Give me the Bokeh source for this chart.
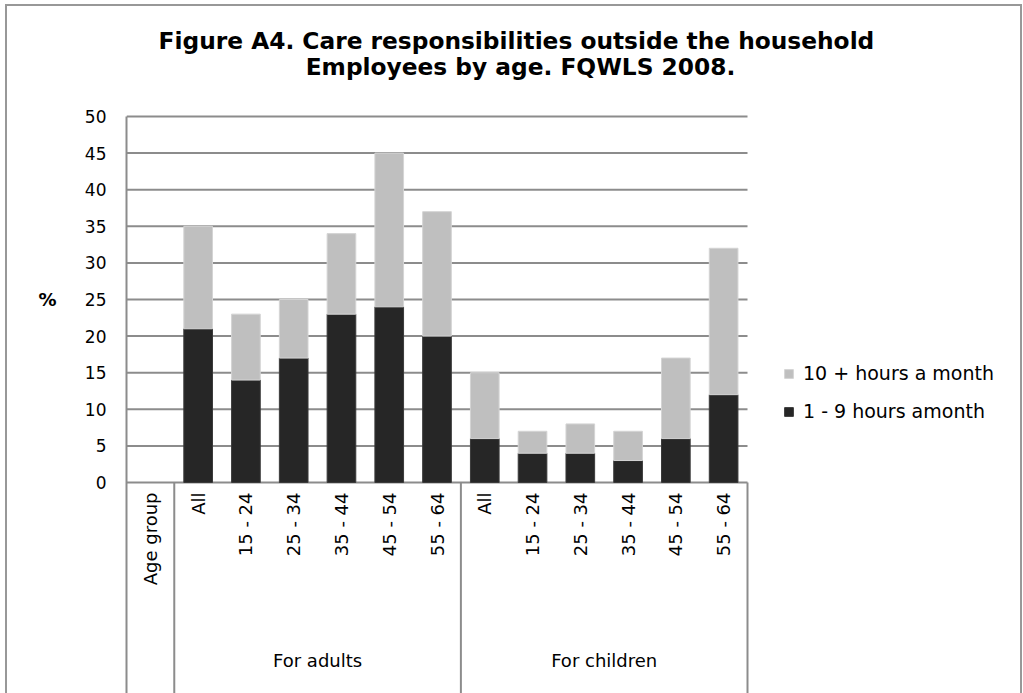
import math

from bokeh.core.properties import value
from bokeh.embed import file_html
from bokeh.models import (ColumnDataSource, FixedTicker, InlineStyleSheet, Label,
                          Legend, LegendItem, LinearAxis, Range1d)
from bokeh.plotting import figure
from bokeh.resources import INLINE

# ---- data -------------------------------------------------------------
title_line_1 = "Figure A4. Care responsibilities  outside the household"
title_line_2 = "Employees by age. FQWLS 2008."
y_label = "%"
header_label = "Age group"
groups = ["For adults", "For children"]
ages = ["All", "15 - 24", "25 - 34", "35 - 44", "45 - 54", "55 - 64"]
series_low = "1 - 9 hours amonth"
series_high = "10 + hours a month"

adults_1_9 = [21, 14, 17, 23, 24, 20]
adults_10_plus = [14, 9, 8, 11, 21, 17]
children_1_9 = [6, 4, 4, 3, 6, 12]
children_10_plus = [9, 3, 4, 4, 11, 20]

y_ticks = [0, 5, 10, 15, 20, 25, 30, 35, 40, 45, 50]

# ---- layout / style ---------------------------------------------------
W, H = 1023, 693
LEFT = 126                 # width of the value-axis panel
PLOT_W = 621               # width taken by the category slots
PLOT_TOP, ZERO_Y = 116, 482  # pixel rows of the 50 and 0 lines
FONT = "DejaVu Sans"
GRID = "#8c8c8c"
DARK = "#262626"
LIGHT = "#bfbfbf"

n = len(ages)
n_slots = 1 + 2 * n                        # header slot + both groups
px_per_slot = PLOT_W / n_slots
px_per_unit = (ZERO_Y - PLOT_TOP) / y_ticks[-1]
x_end = (W - LEFT) / px_per_slot
y_top = y_ticks[-1] + PLOT_TOP / px_per_unit
y_bottom = -(H - ZERO_Y) / px_per_unit

# slot centres: header first, then the age bands of each group
header_x = 0.5
bar_x = [1.5 + i for i in range(2 * n)]
group_x = [1 + n / 2, 1 + n + n / 2]
sep_x = [1, 1 + n, 1 + 2 * n]

source = ColumnDataSource(dict(
    x=bar_x,
    low=adults_1_9 + children_1_9,
    high=adults_10_plus + children_10_plus,
))

p = figure(
    width=W, height=H,
    x_range=Range1d(0, x_end), y_range=Range1d(y_bottom, y_top),
    x_axis_location=None,
    output_backend="svg", toolbar_location=None,
    min_border_left=LEFT, min_border_right=0, min_border_top=0, min_border_bottom=0,
)
p.outline_line_color = None
p.background_fill_color = "white"
p.border_fill_color = "white"
p.xgrid.visible = False
p.ygrid.visible = False

# value axis (line only between the lowest category row and 50)
p.yaxis.ticker = FixedTicker(ticks=y_ticks)
p.yaxis.bounds = (y_bottom, y_ticks[-1])
p.yaxis.axis_line_color = GRID
p.yaxis.axis_line_width = 2
p.yaxis.major_tick_line_color = None
p.yaxis.minor_tick_line_color = None
p.yaxis.major_tick_in = 0
p.yaxis.major_tick_out = 0
p.yaxis.major_label_standoff = 20
p.yaxis.major_label_text_font = FONT
p.yaxis.major_label_text_font_size = "17px"
p.yaxis.major_label_text_color = "black"

# unit marker beside the value axis
unit_axis = LinearAxis(
    ticker=FixedTicker(ticks=[25]), major_label_overrides={25: y_label},
    axis_line_color=None, major_tick_line_color=None, minor_tick_line_color=None,
    major_tick_in=0, major_tick_out=0, major_label_standoff=25,
    major_label_text_font=FONT, major_label_text_font_size="18px",
    major_label_text_font_style="bold", major_label_text_color="black",
)
p.add_layout(unit_axis, "left")

# horizontal grid lines across the category slots
p.segment(x0=[0] * len(y_ticks), x1=[n_slots] * len(y_ticks), y0=y_ticks, y1=y_ticks,
          line_color=GRID, line_width=2)

# stacked bars
r_low, r_high = p.vbar_stack(
    ["low", "high"], x="x", width=0.6, source=source,
    fill_color=[DARK, LIGHT], line_color=["#3a3a3a", "#d4d4d4"], line_width=1,
)

# category axis below zero: separators, rotated labels, group labels
p.segment(x0=sep_x, y0=[0] * 3, x1=sep_x, y1=[y_bottom] * 3,
          line_color=GRID, line_width=2)

p.text(x=[header_x] + bar_x, y=[0] * (1 + 2 * n), text=[header_label] + ages + ages,
       angle=math.pi / 2, y_offset=10, text_align="right", text_baseline="middle",
       text_font=value(FONT), text_font_size="18px", text_color="black")

p.text(x=group_x, y=[0, 0], text=groups, y_offset=178,
       text_align="center", text_baseline="middle",
       text_font=value(FONT), text_font_size="18px", text_color="black")

# two-line title
for txt, row in ((title_line_1, 40), (title_line_2, 66)):
    p.add_layout(Label(x=520 - LEFT, y=H - row, x_units="screen", y_units="screen",
                       text=txt, text_align="center", text_baseline="middle",
                       text_font=FONT, text_font_size="23.3px", text_font_style="bold",
                       text_color="black"))

legend = Legend(
    items=[LegendItem(label=series_high, renderers=[r_high]),
           LegendItem(label=series_low, renderers=[r_low])],
    location=(783 - LEFT, H - 422), margin=0, padding=0, spacing=16,
    glyph_width=11, glyph_height=11, label_height=22, label_standoff=9,
    label_text_font=FONT, label_text_font_size="19px", label_text_color="black",
    border_line_color=None, background_fill_alpha=0,
)
p.add_layout(legend, "center")

p.stylesheets.append(InlineStyleSheet(css="""
:host::after {
  content: ""; position: absolute; left: 5px; top: 4px; width: 1017px; height: 689px;
  border: 2px solid #989898; border-bottom: none; box-sizing: border-box;
  pointer-events: none; z-index: 100;
}
"""))

open("out.html", "w").write(file_html(p, INLINE))
